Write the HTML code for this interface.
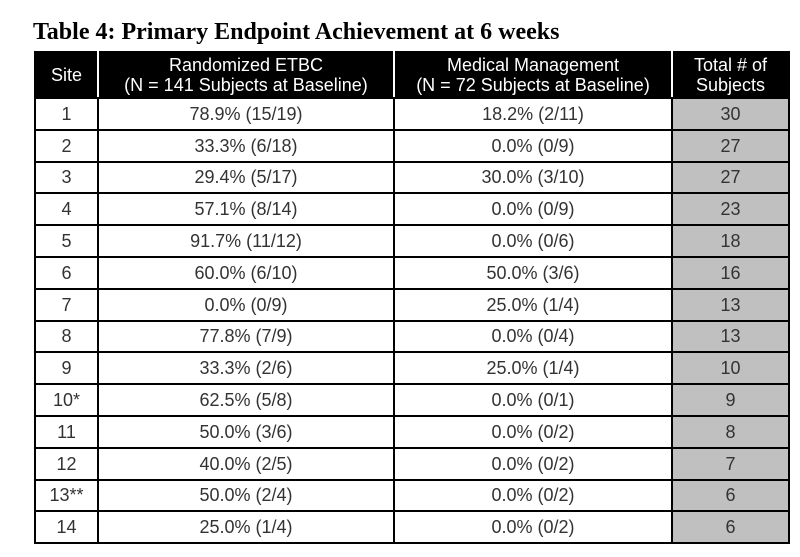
<!DOCTYPE html>
<html><head><meta charset="utf-8"><style>
body{margin:0;width:800px;height:557px;background:#fff;position:relative;overflow:hidden}
#title{position:absolute;left:33px;top:19px;font:bold 24px "Liberation Serif",serif;color:#000;white-space:nowrap}
table{position:absolute;left:34px;top:51px;width:754px;border-collapse:collapse;table-layout:fixed;font:18px "Liberation Sans",sans-serif}
td,th{border:2px solid #000;text-align:center;padding:0;color:#333}
th{background:#000;color:#fff;font-weight:normal;height:44px;line-height:20px;border-color:#000}
th:not(:last-child){border-right-color:#fff}
td{height:29.8px;line-height:18px}
td.g{background:#c0c0c0}
</style></head><body>
<div id="title">Table 4: Primary Endpoint Achievement at 6 weeks</div>
<table>
<colgroup><col style="width:63px"><col style="width:296px"><col style="width:278px"><col style="width:117px"></colgroup>
<thead><tr>
<th>Site</th>
<th>Randomized ETBC<br>(N = 141 Subjects at Baseline)</th>
<th>Medical Management<br>(N = 72 Subjects at Baseline)</th>
<th>Total # of<br>Subjects</th>
</tr></thead>
<tbody id="tb"></tbody>
</table>
<script>
const sites=["1","2","3","4","5","6","7","8","9","10*","11","12","13**","14"];
const etbc=["78.9% (15/19)","33.3% (6/18)","29.4% (5/17)","57.1% (8/14)","91.7% (11/12)","60.0% (6/10)","0.0% (0/9)","77.8% (7/9)","33.3% (2/6)","62.5% (5/8)","50.0% (3/6)","40.0% (2/5)","50.0% (2/4)","25.0% (1/4)"];
const med=["18.2% (2/11)","0.0% (0/9)","30.0% (3/10)","0.0% (0/9)","0.0% (0/6)","50.0% (3/6)","25.0% (1/4)","0.0% (0/4)","25.0% (1/4)","0.0% (0/1)","0.0% (0/2)","0.0% (0/2)","0.0% (0/2)","0.0% (0/2)"];
const totals=["30","27","27","23","18","16","13","13","10","9","8","7","6","6"];
const tb=document.getElementById('tb');
sites.forEach((s,i)=>{
 const tr=document.createElement('tr');
 
 
 const vals=[s,etbc[i],med[i],totals[i]];
 const names=['site-cell','etbc-cell','medical-cell','total-cell'];
 vals.forEach((v,j)=>{
  const td=document.createElement('td');
  
  
  td.textContent=v;
  if(j===3)td.className='g';
  tr.appendChild(td);
 });
 tb.appendChild(tr);
});
</script>
</body></html>
